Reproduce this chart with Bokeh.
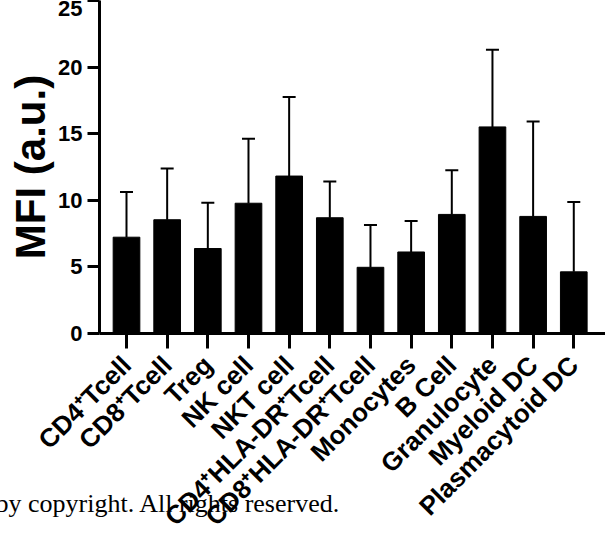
import math
from bokeh.plotting import figure
from bokeh.models import (ColumnDataSource, Range1d, FixedTicker, Whisker, TeeHead, Label)
from bokeh.embed import file_html
from bokeh.resources import INLINE

categories = ["CD4\u207aTcell", "CD8\u207aTcell", "Treg", "NK cell", "NKT cell",
              "CD4\u207aHLA-DR\u207aTcell", "CD8\u207aHLA-DR\u207aTcell", "Monocytes",
              "B Cell", "Granulocyte", "Myeloid DC", "Plasmacytoid DC"]
mean_mfi = [7.23, 8.54, 6.38, 9.78, 11.82, 8.69, 4.97, 6.12, 8.94, 15.51, 8.79, 4.63]
sd_mfi = [3.39, 3.85, 3.43, 4.84, 5.93, 2.73, 3.18, 2.33, 3.32, 5.79, 7.12, 5.25]
y_ticks = [0, 5, 10, 15, 20, 25]
y_title = "MFI (a.u.)"
note = "by copyright. All rights reserved."

xs = list(range(len(categories)))
src = ColumnDataSource(dict(
    x=xs, mean=mean_mfi,
    upper=[m + s for m, s in zip(mean_mfi, sd_mfi)],
))

FONT = "Liberation Sans"

p = figure(frame_width=506, frame_height=333,
           min_border_left=99, min_border_right=0, min_border_top=0, min_border_bottom=204,
           x_range=Range1d(-0.664, 11.78), y_range=Range1d(0, 25),
           output_backend="svg", toolbar_location=None)
p.outline_line_color = None
p.xgrid.visible = False
p.ygrid.visible = False
p.background_fill_color = "white"
p.border_fill_color = "white"

p.vbar(x="x", top="mean", bottom=0, width=0.656, source=src,
       fill_color="black", line_color="black")

wh = Whisker(base="x", lower="mean", upper="upper", source=src, dimension="height",
             line_color="black", line_width=2,
             upper_head=TeeHead(size=13, line_color="black", line_width=2),
             lower_head=None)
p.add_layout(wh)

for ax in (p.xaxis[0], p.yaxis[0]):
    ax.axis_line_width = 3
    ax.axis_line_color = "black"
    ax.major_tick_line_width = 3
    ax.major_tick_line_color = "black"
    ax.major_tick_in = 0
    ax.minor_tick_line_color = None
    ax.major_label_text_font = FONT
    ax.major_label_text_font_style = "bold"
    ax.major_label_text_color = "black"

p.yaxis.ticker = FixedTicker(ticks=y_ticks)
p.yaxis.major_tick_out = 12
p.yaxis.major_label_text_font_size = "22px"
p.yaxis.major_label_standoff = 5
p.yaxis.axis_label = y_title
p.yaxis.axis_label_text_font = FONT
p.yaxis.axis_label_text_font_style = "bold"
p.yaxis.axis_label_text_font_size = "42px"
p.yaxis.axis_label_text_color = "black"
p.yaxis.axis_label_standoff = 1

p.xaxis.ticker = FixedTicker(ticks=xs)
p.xaxis.major_label_overrides = {i: c for i, c in zip(xs, categories)}
p.xaxis.major_tick_out = 15
p.xaxis.major_label_orientation = math.pi / 4
p.xaxis.major_label_text_font_size = "26px"
p.xaxis.major_label_standoff = 12

p.add_layout(Label(x=-5, x_units="canvas", y=503, y_units="canvas", text=note,
                   text_align="left", text_baseline="alphabetic",
                   text_font="Liberation Serif", text_font_size="26px",
                   text_color="black"), "below")

open("out.html", "w").write(file_html(p, INLINE))
